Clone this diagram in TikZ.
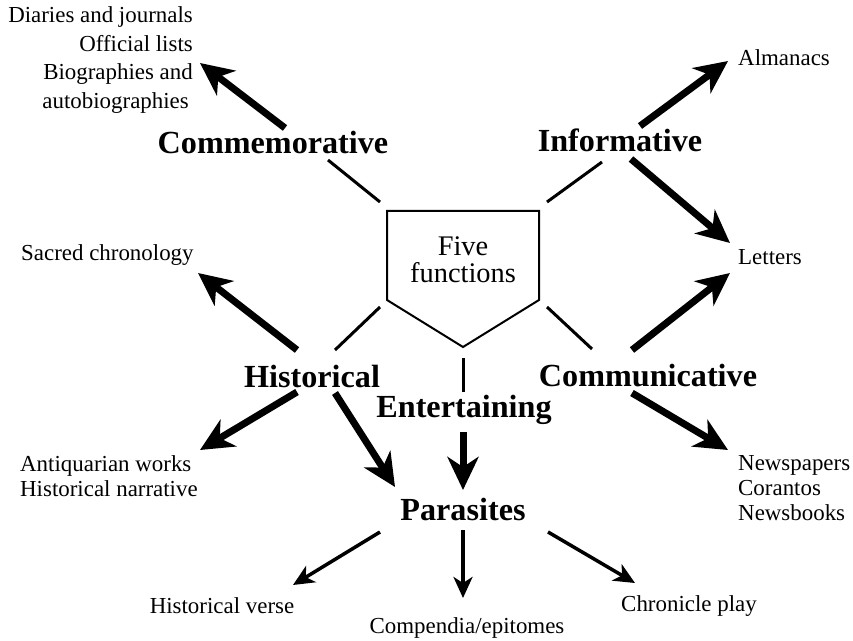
\documentclass[tikz,border=0pt]{standalone}
\usepackage{fontspec}
\setmainfont{Liberation Serif}
\usetikzlibrary{arrows.meta}
\begin{document}
\begin{tikzpicture}[x=1bp,y=-1bp,
  small/.style={font=\fontsize{23}{25}\selectfont, inner sep=0pt},
  big/.style={font=\fontsize{32.3}{36}\selectfont\bfseries, inner sep=0pt},
  thick arrow/.style={line width=7bp, -{Stealth[length=33bp,width=31bp,inset=10bp]}},
  thin arrow/.style={line width=3.5bp, -{Stealth[length=21bp,width=19bp,inset=6bp]}},
  stub/.style={line width=3bp},
  pent/.style={line width=2bp, line join=miter}]
\useasboundingbox (0,0) rectangle (853,641);
% pentagon
\draw[pent] (387,211) -- (539,211) -- (539,300) -- (463,347) -- (387,300) -- cycle;
\node[small, align=center, font=\fontsize{28.5}{27}\selectfont] (ff) at (463,260) {Five\\functions};
% labels
\node[big] (comm) at (273,142) {Commemorative};
\node[big] (info) at (620,140) {Informative};
\node[big] (hist) at (312,376) {Historical};
\node[big] (cmm) at (648,376) {Communicative};
\node[big] (ent) at (464,410) {Entertaining};
\node[big] (par) at (463,509) {Parasites};
% leaves
\node[small, anchor=east, align=right, font=\fontsize{23}{28.5}\selectfont] (diar) at (193,60) {Diaries and journals\\Official lists\\Biographies and\\autobiographies\hspace*{4bp}};
\node[small, anchor=west] (alm) at (738,58) {Almanacs};
\node[small, anchor=west] (let) at (738,257) {Letters};
\node[small, anchor=west] (sac) at (21,255) {Sacred chronology};
\node[small, anchor=west, align=left] (news) at (738,488) {Newspapers\\Corantos\\Newsbooks};
\node[small, anchor=west, align=left] (anti) at (20,476) {Antiquarian works\\Historical narrative};
\node[small] (hv) at (222,606) {Historical verse};
\node[small] (comp) at (467,628) {Compendia/epitomes};
\node[small] (chron) at (689,606) {Chronicle play};
% stub coordinates
\coordinate (l1a) at (328,160); \coordinate (l1b) at (380,202);
\coordinate (l2a) at (602,162); \coordinate (l2b) at (547,202);
\coordinate (l3a) at (335,350); \coordinate (l3b) at (380,307);
\coordinate (l4a) at (592,349); \coordinate (l4b) at (547,307);
\coordinate (l5a) at (463,392); \coordinate (l5b) at (463,358);
\draw[stub] (l1a) -- (l1b);
\draw[stub] (l2a) -- (l2b);
\draw[stub] (l3a) -- (l3b);
\draw[stub] (l4a) -- (l4b);
\draw[stub] (l5a) -- (l5b);
% arrow end coordinates
\coordinate (a1s) at (285,128); \coordinate (a1e) at (200,63);
\coordinate (a2s) at (640,126); \coordinate (a2e) at (728,61);
\coordinate (a3s) at (631,159); \coordinate (a3e) at (730,243);
\coordinate (a4s) at (632,350); \coordinate (a4e) at (730,273);
\coordinate (a5s) at (632,393); \coordinate (a5e) at (728,450);
\coordinate (a6s) at (297,350); \coordinate (a6e) at (198,273);
\coordinate (a7s) at (297,392); \coordinate (a7e) at (200,450);
\coordinate (a8s) at (335,393); \coordinate (a8e) at (395,487);
\coordinate (a9s) at (463,432); \coordinate (a9e) at (463,490);
\draw[thick arrow] (a1s) -- (a1e);
\draw[thick arrow] (a2s) -- (a2e);
\draw[thick arrow] (a3s) -- (a3e);
\draw[thick arrow] (a4s) -- (a4e);
\draw[thick arrow] (a5s) -- (a5e);
\draw[thick arrow] (a6s) -- (a6e);
\draw[thick arrow] (a7s) -- (a7e);
\draw[thick arrow] (a8s) -- (a8e);
\draw[thick arrow] (a9s) -- (a9e);
\coordinate (b1s) at (380,532); \coordinate (b1e) at (293,585);
\coordinate (b2s) at (463,530); \coordinate (b2e) at (463,598);
\coordinate (b3s) at (548,532); \coordinate (b3e) at (635,583);
\draw[thin arrow] (b1s) -- (b1e);
\draw[thin arrow] (b2s) -- (b2e);
\draw[thin arrow] (b3s) -- (b3e);
\end{tikzpicture}
\end{document}
